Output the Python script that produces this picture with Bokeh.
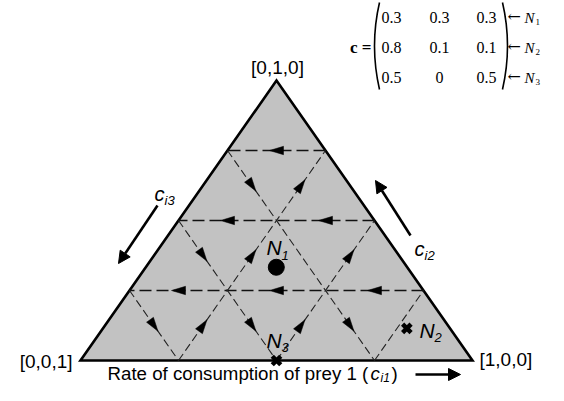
from bokeh.plotting import figure
from bokeh.models import Range1d, Arrow, NormalHead
from bokeh.core.properties import value
from bokeh.embed import file_html
from bokeh.resources import INLINE

# ---------------- data ----------------
# consumption matrix c (rows: consumers N1..N3, columns: prey 1..3)
consumer_names = ["N", "N", "N"]
consumer_subs = ["1", "2", "3"]
c_row1 = [0.3, 0.3, 0.3]
c_row2 = [0.8, 0.1, 0.1]
c_row3 = [0.5, 0.0, 0.5]
matrix_text = [["0.3", "0.3", "0.3"], ["0.8", "0.1", "0.1"], ["0.5", "0", "0.5"]]

# positions of consumers in the simplex
marker_c1 = [0.333, 0.775, 0.5]
marker_c2 = [0.333, 0.115, 0.0]

# vertex labels of the simplex [c1,c2,c3]
vertex_c = [(1, 0, 0), (0, 1, 0), (0, 0, 1)]
vertex_labels = ["[1,0,0]", "[0,1,0]", "[0,0,1]"]

# dashed flow grid
grid_levels = [0.25, 0.5, 0.75]
grid_step = 0.25
# (coordinate held constant, coordinate decreasing, coordinate increasing)
flows = [(1, 0, 2), (2, 1, 0), (0, 2, 1)]
no_arrow = [(2, 0.25, 1), (0, 0.75, 0)]

title_text = "Rate of consumption of prey 1 ("

# ---------------- layout helpers ----------------
W = 392.0             # base length of triangle in px
R = 280.0 / 392.0     # height / base
X0, Y0 = 80.0, 360.0  # canvas position of [0,0,1]
FW, FH = 548, 385


def bary(c1, c2, c3):
    return c1 + c2 / 2.0, c2 * R


def P(px, py):
    return (px - X0) / W, (Y0 - py) / W


p = figure(width=FW, height=FH,
           x_range=Range1d((0 - X0) / W, (FW - X0) / W),
           y_range=Range1d((Y0 - FH) / W, (Y0 - 0) / W),
           output_backend="svg", toolbar_location=None,
           x_axis_type=None, y_axis_type=None, min_border=0,
           outline_line_color=None, background_fill_color="white")

SANS = "Liberation Sans"
SERIF = "Liberation Serif"


def T(px, py, text, size, font=SANS, style="normal", align="left", color="black"):
    # py is the wanted alphabetic baseline; bokeh places the text box bottom there
    fs = float(size.replace("px", ""))
    x, y = P(px, py - 0.25 * fs)
    p.text(x=[x], y=[y], text=[text], text_font=value(font),
           text_font_size=value(size), text_font_style=value(style),
           text_align=value(align), text_baseline=value("alphabetic"),
           text_color=color)


# ---------------- triangle ----------------
tx, ty = zip(*[bary(*v) for v in vertex_c])
p.patch(list(tx), list(ty), fill_color="#c2c2c2", line_color="black",
        line_width=2.6, line_join="miter")

# ---------------- dashed grid with arrows ----------------
head_xs, head_ys = [], []
Lh, Wh = 14.0 / W, 4.2 / W
for fi, (k, a, b) in enumerate(flows):
    xs_f, ys_f = [], []
    for lev in grid_levels:
        span = 1.0 - lev
        n = int(round(span / grid_step))

        def pt(t):
            c = [0.0, 0.0, 0.0]
            c[k] = lev
            c[b] = t
            c[a] = span - t
            return bary(*c)
        s, e = pt(0.0), pt(span)
        xs_f.append([s[0], e[0]])
        ys_f.append([s[1], e[1]])
        for i in range(n):
            if (k, lev, i) in no_arrow:
                continue
            p0, p1 = pt(i * grid_step), pt((i + 1) * grid_step)
            mx, my = (p0[0] + p1[0]) / 2, (p0[1] + p1[1]) / 2
            dx, dy = p1[0] - p0[0], p1[1] - p0[1]
            ln = (dx * dx + dy * dy) ** 0.5
            dx, dy = dx / ln, dy / ln
            nx, ny = -dy, dx
            tip = (mx + dx * Lh / 2, my + dy * Lh / 2)
            bx, by = mx - dx * Lh / 2, my - dy * Lh / 2
            head_xs.append([tip[0], bx + nx * Wh, bx - nx * Wh])
            head_ys.append([tip[1], by + ny * Wh, by - ny * Wh])
    if k == 1:
        p.multi_line(xs_f, ys_f, line_color="#111111", line_width=1.6, line_dash="12 5")
    else:
        p.multi_line(xs_f, ys_f, line_color="#222222", line_width=1.1, line_dash="8 4")

p.patches(head_xs, head_ys, fill_color="black", line_color="black", line_width=0.5)

# ---------------- consumers ----------------
mx_, my_ = zip(*[bary(c1, c2, 1 - c1 - c2) for c1, c2 in zip(marker_c1, marker_c2)])
p.scatter([mx_[0]], [my_[0]], marker="circle", size=16, fill_color="black", line_color="black")
p.scatter(list(mx_[1:]), list(my_[1:]), marker="x", size=12, line_color="black", line_width=4.5)

T(266, 252, "N", "21px", style="italic")
T(281, 258, "1", "13px", style="italic")
T(419, 335, "N", "21px", style="italic")
T(434, 340, "2", "13px", style="italic")
T(266, 345, "N", "21px", style="italic")
T(281, 350, "3", "13px", style="italic")

# ---------------- vertex labels ----------------
T(277, 72, vertex_labels[1], "19px", align="center")
T(479, 364, vertex_labels[0], "19px")
T(72, 366, vertex_labels[2], "19px", align="right")

# ---------------- side labels & arrows ----------------
T(154, 198, "c", "20px", style="italic")
T(164, 203, "i3", "13px", style="italic")
T(414, 253, "c", "20px", style="italic")
T(424, 258, "i2", "13px", style="italic")

for (sx, sy, ex, ey) in [(157, 205, 118, 263), (410, 235, 375, 180), (415, 374, 460, 374)]:
    xs0, ys0 = P(sx, sy)
    xe0, ye0 = P(ex, ey)
    p.add_layout(Arrow(end=NormalHead(size=12, fill_color="black", line_color="black"),
                       x_start=xs0, y_start=ys0, x_end=xe0, y_end=ye0,
                       line_width=2.6, line_color="black"))

# ---------------- bottom title ----------------
T(107, 378, title_text, "18.7px")
T(370, 378, "c", "18.7px", style="italic")
T(380, 380, "i1", "12px", style="italic")
T(391, 378, ")", "18.7px")

# ---------------- matrix ----------------
row_base = [21, 51, 81]
col_center = [391, 439, 486]
for r, row in enumerate(matrix_text):
    for c, txt in enumerate(row):
        T(col_center[c], row_base[r], txt, "16px", font=SERIF, align="center")
    T(507, row_base[r] - 1, "\u2190", "16px", font="DejaVu Serif")
    T(524, row_base[r], consumer_names[r], "15px", font=SERIF, style="italic")
    T(535, row_base[r] + 3, consumer_subs[r], "9px", font=SERIF)
T(371, 51, "c =", "17px", font=SERIF, style="bold", align="right")

for x_end, x_ctrl in [(379, 369), (502, 512)]:
    a0 = P(x_end, 2)
    a1 = P(x_end, 89)
    cc = P(x_ctrl, 45)
    p.quadratic(x0=[a0[0]], y0=[a0[1]], x1=[a1[0]], y1=[a1[1]], cx=[cc[0]], cy=[cc[1]],
                line_color="black", line_width=1.6)

open("out.html", "w").write(file_html(p, INLINE))
